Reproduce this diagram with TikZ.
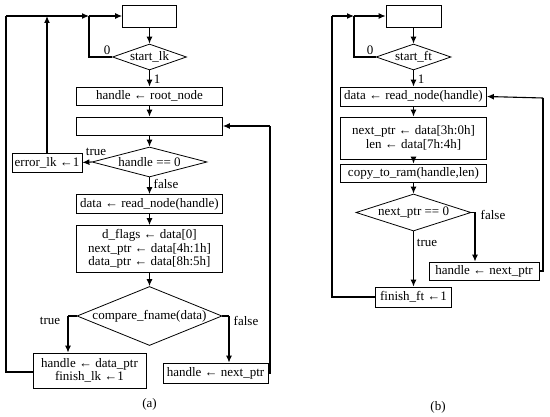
\documentclass[tikz,border=0pt]{standalone}
\usepackage{fontspec}
\setmainfont{Liberation Serif}
\usetikzlibrary{arrows.meta,shapes.geometric}
\tikzset{
  proc/.style={draw,line width=0.8pt,inner sep=0pt,align=center,font=\fontsize{13}{13.5}\selectfont},
  cond/.style={draw,diamond,line width=0.8pt,inner sep=0pt,font=\fontsize{13}{13.5}\selectfont},
  flow/.style={line width=1.1pt,-{Latex[length=7pt,width=6pt]}},
  wire/.style={line width=1.1pt},
  lbl/.style={inner sep=0pt,font=\fontsize{13}{13.5}\selectfont}
}
\begin{document}
\begin{tikzpicture}[x=1pt,y=1pt]
\useasboundingbox (0,0) rectangle (550,-417);
% (a) lookup
\node[proc,minimum width=54,minimum height=22] (lkbox) at (149.5,-16) {};
\node[cond,minimum width=74,minimum height=26,aspect=2.85] (lkstart) at (149.5,-57) {start\_lk};
\node[proc,minimum width=146,minimum height=18] (lkroot) at (149.5,-96) {handle ← root\_node};
\node[proc,minimum width=146,minimum height=18] (lkwait) at (149.5,-126) {};
\node[cond,minimum width=115,minimum height=30,aspect=3.83] (lkzero) at (149.5,-162) {handle == 0};
\node[proc,minimum width=70,minimum height=19] (lkerr) at (47,-162.5) {error\_lk ←1};
\node[proc,minimum width=146,minimum height=19] (lkread) at (149.5,-204) {data ← read\_node(handle)};
\node[proc,minimum width=146,minimum height=47] (lkparse) at (149.5,-249) {d\_flags ← data[0]\\next\_ptr ← data[4h:1h]\\data\_ptr ← data[8h:5h]};
\node[cond,minimum width=145,minimum height=59,aspect=2.46] (lkcmp) at (149.5,-316) {compare\_fname(data)};
\node[proc,minimum width=113,minimum height=35] (lkfound) at (89.5,-370.5) {handle ← data\_ptr\\finish\_lk ←1};
\node[proc,minimum width=105,minimum height=20] (lknext) at (215.5,-373) {handle ← next\_ptr};
\node[lbl] (capa) at (149.5,-404) {(a)};
\coordinate (lkjoin) at (89,-16);
\coordinate (lkleft) at (6,-372);
\coordinate (lkright) at (270,-126);
\coordinate (lktrue) at (68,-316);
\coordinate (lkfalse) at (229,-316);
\foreach \a/\b in {lkbox/lkstart,lkstart/lkroot,lkroot/lkwait,lkwait/lkzero,lkzero/lkread,lkread/lkparse,lkparse/lkcmp}
  \draw[flow] (\a.south) -- (\b.north);
\draw[wire] (lkstart.west) -| (lkjoin);
\draw[flow] (lkjoin) -- (lkbox.west);
\draw[flow] (lkzero.west) -- (lkerr.east);
\draw[flow] (lkerr.north) -- (lkerr.north |- lkjoin);
\draw[wire] (lkcmp.west) -- (lktrue);
\draw[flow] (lktrue) -- (lktrue |- lkfound.north);
\draw[wire] (lkcmp.east) -- (lkfalse);
\draw[flow] (lkfalse) -- (lkfalse |- lknext.north);
\draw[wire] (lknext.east) -| (lkright);
\draw[flow] (lkright) -- (lkwait.east);
\draw[wire] (lkfound.west |- lkleft) -- (lkleft) -- (lkleft |- lkjoin);
\draw[flow] (lkleft |- lkjoin) -- (lkjoin);
\node[lbl] at (107,-50) {0};
\node[lbl] at (157,-79) {1};
\node[lbl] at (96,-152) {true};
\node[lbl] at (166,-184) {false};
\node[lbl] at (50,-321) {true};
\node[lbl] at (246,-321) {false};
% (b) fetch
\node[proc,minimum width=55,minimum height=22] (ftbox) at (413.5,-16) {};
\node[cond,minimum width=75,minimum height=26,aspect=2.88] (ftstart) at (413.5,-57) {start\_ft};
\node[proc,minimum width=146,minimum height=19] (ftread) at (413.5,-96.5) {data ← read\_node(handle)};
\node[proc,minimum width=146,minimum height=42] (ftparse) at (413.5,-138) {next\_ptr ← data[3h:0h]\\len ← data[7h:4h]};
\node[proc,minimum width=146,minimum height=18] (ftcopy) at (413.5,-173) {copy\_to\_ram(handle,len)};
\node[cond,minimum width=115,minimum height=37,aspect=3.1] (ftnext) at (413.5,-212.5) {next\_ptr == 0};
\node[proc,minimum width=110,minimum height=18] (ftmove) at (484,-271) {handle ← next\_ptr};
\node[proc,minimum width=76,minimum height=20] (ftdone) at (413.5,-297) {finish\_ft ←1};
\node[lbl] (capb) at (438,-407) {(b)};
\coordinate (ftloop) at (354,-16);
\coordinate (ftleft) at (332,-297);
\coordinate (ftright) at (543,-98);
\coordinate (ftfalse) at (475,-212.5);
\foreach \a/\b in {ftbox/ftstart,ftstart/ftread,ftread/ftparse,ftparse/ftcopy,ftcopy/ftnext,ftnext/ftdone}
  \draw[flow] (\a.south) -- (\b.north);
\draw[wire] (ftstart.west) -| (ftloop);
\draw[flow] (ftloop) -- (ftbox.west);
\draw[wire] (ftnext.east) -- (ftfalse);
\draw[flow] (ftfalse) -- (ftfalse |- ftmove.north);
\draw[wire] (ftmove.east) -| (ftright);
\draw[flow] (ftright) -- (ftread.east);
\draw[wire] (ftdone.west) -- (ftleft) -- (ftleft |- ftloop);
\draw[flow] (ftleft |- ftloop) -- (ftloop);
\node[lbl] at (370,-50) {0};
\node[lbl] at (421,-79) {1};
\node[lbl] at (427,-243) {true};
\node[lbl] at (493,-215) {false};
\end{tikzpicture}
\end{document}
